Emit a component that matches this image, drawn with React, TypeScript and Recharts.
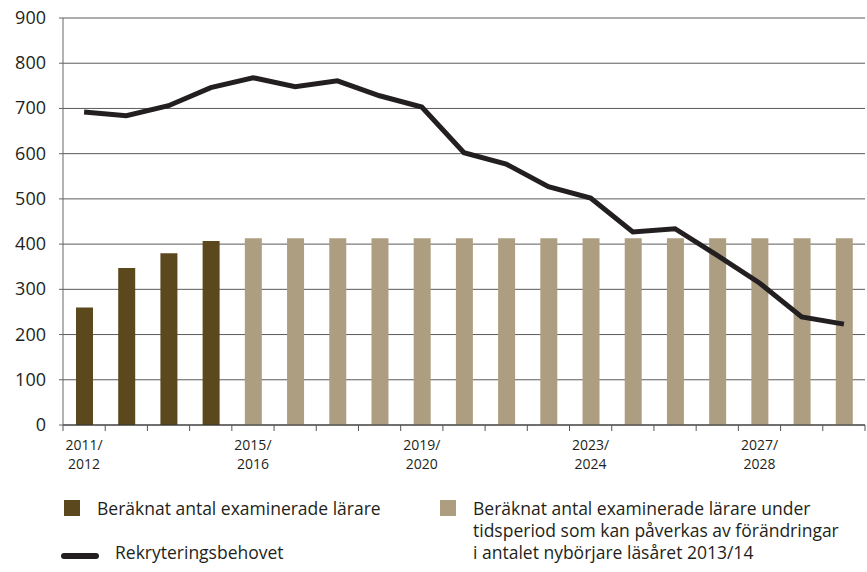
import React from 'react';
import { ComposedChart, Bar, Line, XAxis, YAxis, CartesianGrid } from 'recharts';

const categories = [
  '2011/2012', '2012/2013', '2013/2014', '2014/2015', '2015/2016', '2016/2017', '2017/2018',
  '2018/2019', '2019/2020', '2020/2021', '2021/2022', '2022/2023', '2023/2024', '2024/2025',
  '2025/2026', '2026/2027', '2027/2028', '2028/2029', '2029/2030',
];

// Beräknat antal examinerade lärare
const examined = [260, 347, 380, 407, null, null, null, null, null, null, null, null, null, null, null, null, null, null, null];
// ... under tidsperiod som kan påverkas av förändringar
const affected = [null, null, null, null, 413, 413, 413, 413, 413, 413, 413, 413, 413, 413, 413, 413, 413, 413, 413];
// Rekryteringsbehovet
const recruitment = [692, 684, 706, 746, 768, 748, 761, 728, 703, 602, 577, 527, 502, 427, 434, 375, 314, 239, 223];

const yTicks = [0, 100, 200, 300, 400, 500, 600, 700, 800, 900];

const lightLegendLines = [
  'Beräknat antal examinerade lärare under',
  'tidsperiod som kan påverkas av förändringar',
  'i antalet nybörjare läsåret 2013/14',
];

const data = categories.map((name, i) => ({
  name,
  examined: examined[i],
  affected: affected[i],
  recruitment: recruitment[i],
}));

const DARK = '#5b481d';
const LIGHT = '#ad9e82';
const LINE = '#231f20';
const FONT = '"Open Sans", sans-serif';

const CHART_W = 867;
const MARGIN_L = 0;
const MARGIN_R = 2;
const Y_W = 63;
const STEP = (CHART_W - MARGIN_L - MARGIN_R - Y_W) / categories.length;

const XTick = (props: any) => {
  const { x, y, payload, index } = props;
  const [a, b] = String(payload.value).split('/');
  const last = index === categories.length - 1;
  return (
    <g>
      <line x1={x - STEP / 2} x2={x - STEP / 2} y1={y} y2={y + 6} stroke="#555" />
      {last && <line x1={x + STEP / 2} x2={x + STEP / 2} y1={y} y2={y + 6} stroke="#555" />}
      {index % 4 === 0 && (
        <text textAnchor="middle" fill={LINE} fontSize={14} fontFamily={FONT}>
          <tspan x={x} y={y + 25}>{a}/</tspan>
          <tspan x={x} y={y + 44}>{b}</tspan>
        </text>
      )}
    </g>
  );
};

const YTick = (props: any) => {
  const { x, y, payload } = props;
  return (
    <text x={x} y={y} dy={6} textAnchor="end" fill={LINE} fontSize={18} fontFamily={FONT}>
      {payload.value}
    </text>
  );
};

const legendText: React.CSSProperties = {
  position: 'absolute',
  fontFamily: FONT,
  fontSize: 17.5,
  color: LINE,
  lineHeight: '21px',
  height: 21,
  whiteSpace: 'nowrap',
};

export default function App() {
  return (
    <div style={{ position: 'absolute', left: 0, top: 0, width: 867, height: 572, background: '#fff' }}>
      <ComposedChart
        width={CHART_W}
        height={485}
        data={data}
        margin={{ top: 18, right: MARGIN_R, left: MARGIN_L, bottom: 0 }}
      >
        <CartesianGrid vertical={false} stroke="#5a5a5a" />
        <XAxis
          dataKey="name"
          interval={0}
          height={60}
          tickLine={false}
          tickSize={0}
          tickMargin={0}
          axisLine={{ stroke: '#333' }}
          tick={<XTick />}
        />
        <YAxis
          domain={[0, 900]}
          ticks={yTicks}
          width={Y_W}
          tickSize={4}
          tickMargin={13}
          axisLine={{ stroke: '#666' }}
          tickLine={{ stroke: '#666' }}
          tick={<YTick />}
        />
        <Bar dataKey="examined" stackId="a" fill={DARK} barSize={17} isAnimationActive={false} />
        <Bar dataKey="affected" stackId="a" fill={LIGHT} barSize={17} isAnimationActive={false} />
        <Line
          type="linear"
          dataKey="recruitment"
          stroke={LINE}
          strokeWidth={5}
          dot={false}
          isAnimationActive={false}
        />
      </ComposedChart>

      <div style={{ position: 'absolute', left: 64, top: 500, width: 16, height: 16, background: DARK }} />
      <div style={{ ...legendText, left: 97, top: 498 }}>Beräknat antal examinerade lärare</div>

      <div style={{ position: 'absolute', left: 61, top: 553, width: 38, height: 6, borderRadius: 3, background: LINE }} />
      <div style={{ ...legendText, left: 115, top: 542 }}>Rekryteringsbehovet</div>

      <div style={{ position: 'absolute', left: 440, top: 500, width: 16, height: 16, background: LIGHT }} />
      {lightLegendLines.map((t, i) => (
        <div key={t} style={{ ...legendText, left: 473, top: 498 + i * 22 }}>
          {t}
        </div>
      ))}
    </div>
  );
}
